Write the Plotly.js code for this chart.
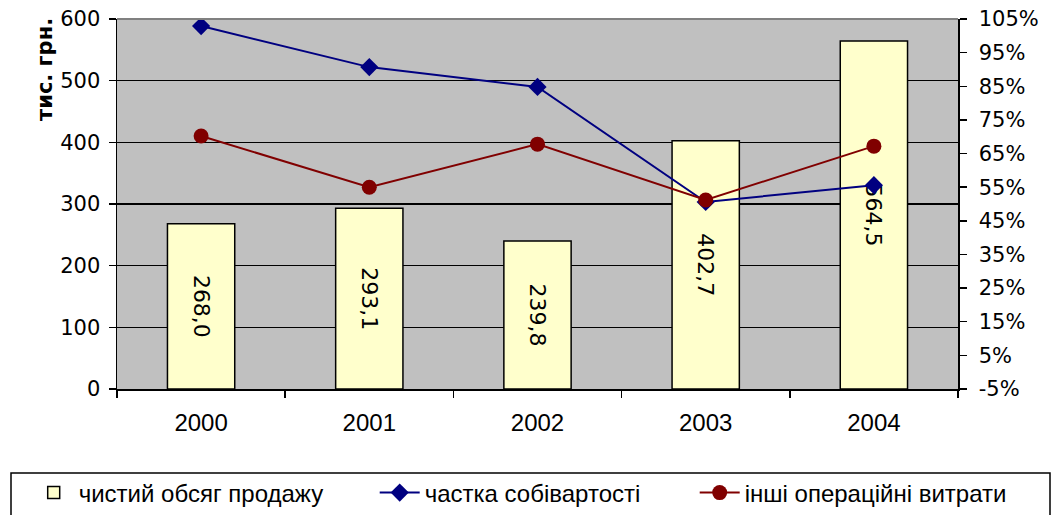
<!DOCTYPE html>
<html>
<head>
<meta charset="utf-8">
<script src="https://cdn.plot.ly/plotly-3.0.1.min.js"></script>
<style>html,body{margin:0;padding:0;background:#fff;}#chart{width:1056px;height:515px;}</style>
</head>
<body>
<div id="chart"></div>
<script>
const years = ['2000', '2001', '2002', '2003', '2004'];
const salesVolume = [268.0, 293.1, 239.8, 402.7, 564.5];
const salesLabels = ['268,0', '293,1', '239,8', '402,7', '564,5'];
const costShare = [102.9, 90.7, 84.8, 50.6, 55.6];
const otherExpenses = [70.2, 55.0, 67.8, 51.2, 67.2];
const leftTicks = [0, 100, 200, 300, 400, 500, 600];
const rightTicks = [-5, 5, 15, 25, 35, 45, 55, 65, 75, 85, 95, 105];
const rightTickLabels = ['-5%', '5%', '15%', '25%', '35%', '45%', '55%', '65%', '75%', '85%', '95%', '105%'];

const tickFont = {family: 'DejaVu Sans, Verdana, sans-serif', size: 21, color: '#000'};
const xTickFont = {family: 'Liberation Sans, Arial, sans-serif', size: 24, color: '#000'};
const legendFont = {family: 'Liberation Sans, Arial, sans-serif', size: 24, color: '#000'};

const traces = [
  {
    type: 'bar', x: years, y: salesVolume, name: 'чистий обсяг продажу', legend: 'legend',
    text: salesLabels, texttemplate: '%{text}', textposition: 'inside', insidetextanchor: 'middle',
    textangle: 90, textfont: {family: 'DejaVu Sans, Verdana, sans-serif', size: 22, color: '#000'},
    marker: {color: '#FFFFCC', line: {color: '#000', width: 1.5}}, width: 0.4,
    hoverinfo: 'skip'
  },
  {
    type: 'scatter', mode: 'lines+markers', x: years, y: costShare, yaxis: 'y2', legend: 'legend2',
    name: 'частка собівартості',
    line: {color: '#000080', width: 2}, marker: {symbol: 'diamond', size: 14, color: '#000080'}
  },
  {
    type: 'scatter', mode: 'lines+markers', x: years, y: otherExpenses, yaxis: 'y2', legend: 'legend3',
    name: 'інші операційні витрати',
    line: {color: '#800000', width: 2}, marker: {symbol: 'circle', size: 15, color: '#800000'}
  }
];

function legendAt(xpx) {
  return {
    orientation: 'h', x: (xpx - 117) / 841, xanchor: 'left', y: (389 - 493) / 370, yanchor: 'middle',
    font: legendFont, bgcolor: 'rgba(0,0,0,0)', borderwidth: 0, itemwidth: 40
  };
}

const layout = {
  width: 1056, height: 515,
  margin: {l: 117, r: 98, t: 19, b: 126, autoexpand: false},
  paper_bgcolor: '#fff', plot_bgcolor: '#C0C0C0',
  showlegend: true,
  legend: legendAt(77 - 48.3),
  legend2: legendAt(423 - 48.3),
  legend3: legendAt(743 - 48.3),
  xaxis: {
    type: 'category', tickson: 'boundaries', ticks: 'outside', ticklen: 7, tickcolor: '#000', tickwidth: 1.5,
    ticklabelstandoff: 12,
    showline: true, linecolor: '#000', linewidth: 1.5, showgrid: false, tickfont: xTickFont, fixedrange: true
  },
  yaxis: {
    range: [0, 600], tickvals: leftTicks, ticks: 'outside', ticklen: 7, ticklabelstandoff: 4,
    tickcolor: '#000', tickwidth: 1.5, showline: true, linecolor: '#000', linewidth: 1.5,
    showgrid: true, gridcolor: '#000', gridwidth: 1.5, zeroline: false, tickfont: tickFont, fixedrange: true
  },
  yaxis2: {
    overlaying: 'y', side: 'right', range: [-5, 105], tickvals: rightTicks, ticktext: rightTickLabels,
    ticks: 'outside', ticklen: 7, ticklabelstandoff: 8, tickcolor: '#000', tickwidth: 1.5, showline: true, linecolor: '#000',
    linewidth: 1.5, showgrid: false, zeroline: false, tickfont: tickFont, fixedrange: true
  },
  shapes: [
    {type: 'line', xref: 'paper', yref: 'paper', x0: 0, x1: 1, y0: 1, y1: 1, line: {color: '#808080', width: 2}},
    {type: 'rect', xref: 'paper', yref: 'paper', x0: (11 - 117) / 841, x1: (1050 - 117) / 841,
     y0: (389 - 518) / 370, y1: (389 - 473) / 370, line: {color: '#000', width: 1.5}, fillcolor: 'rgba(0,0,0,0)'}
  ],
  annotations: [
    {text: '<b>тис. грн.</b>', xref: 'paper', yref: 'paper', x: (45 - 117) / 841, y: (389 - 70) / 370,
     xanchor: 'center', yanchor: 'middle', textangle: -90, showarrow: false,
     font: {family: 'DejaVu Sans, Verdana, sans-serif', size: 21, color: '#000'}}
  ]
};

Plotly.newPlot('chart', traces, layout, {displayModeBar: false, staticPlot: true});
</script>
</body>
</html>
